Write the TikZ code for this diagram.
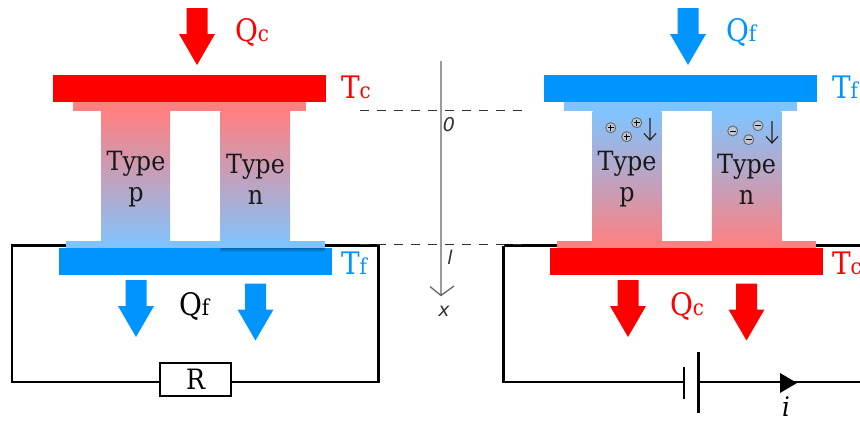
\documentclass[tikz,border=0pt]{standalone}
\usepackage{fontspec}
\setmainfont{DejaVu Serif Condensed}
\newfontfamily\axisfont{DejaVu Sans}
\usetikzlibrary{arrows.meta}
\definecolor{hot}{HTML}{FF0000}
\definecolor{cold}{HTML}{0094FF}
\definecolor{hotl}{HTML}{FF8080}
\definecolor{coldl}{HTML}{80C4FF}
\definecolor{axisgray}{HTML}{666666}
\newcommand{\bigarrow}[3]{\fill[#3] (#1-10.5,#2) -- (#1+10.5,#2) -- (#1+10.5,#2+26) -- (#1+18,#2+26) -- (#1,#2+57) -- (#1-18,#2+26) -- (#1-10.5,#2+26) -- cycle;}
\newcommand{\QT}[2]{{\fontsize{31}{31}\selectfont #1}{\fontsize{22}{22}\selectfont #2}}
\tikzset{
  plate/.style={rectangle,inner sep=0pt,outer sep=0pt,minimum width=273pt,minimum height=27pt},
  strip/.style={rectangle,inner sep=0pt,outer sep=0pt},
  lab/.style={inner sep=0pt,outer sep=0pt,anchor=base west},
  leglab/.style={inner sep=0pt,outer sep=0pt,align=center,font=\fontsize{26.5}{31}\selectfont,text=black!90},
  wire/.style={black,line width=2.2pt},
  dashline/.style={black!80,line width=1pt,dash pattern=on 9pt off 8pt},
  chg/.style={circle,draw=black!60,fill=black!18,fill opacity=0.7,line width=0.9pt,minimum size=10pt,inner sep=0pt},
  axlab/.style={inner sep=0pt,text=black!80,font=\axisfont\itshape\fontsize{19}{19}\selectfont}
}
\begin{document}
\begin{tikzpicture}[x=1pt,y=-1pt]
\useasboundingbox (0,0) rectangle (860,423);
% ---------- circuits
\coordinate (la) at (12,245.5); \coordinate (lb) at (378.5,245.5);
\coordinate (lc) at (12,382); \coordinate (ld) at (378.5,382);
\coordinate (ra) at (503.5,245.5); \coordinate (rb) at (860,245.5);
\coordinate (rc) at (503.5,382); \coordinate (rd) at (860,382);
\node[draw=black,line width=2.2pt,fill=white,minimum width=71pt,minimum height=33pt,inner sep=0pt,outer sep=0pt,font=\fontsize{28}{28}\selectfont] (R) at (195.5,379.5) {R};
\draw[wire] (R.west |- lc) -- (lc) -- (la) -- (lb) -- (ld) -- (R.east |- ld);
\coordinate (bs1) at (684,367); \coordinate (bs2) at (684,399);
\coordinate (bl1) at (698.5,352); \coordinate (bl2) at (698.5,413);
\draw[wire] (ra) -- (rb);
\draw[wire] (ra) -- (rc) -- (bs1 |- rc);
\draw[wire] (bl1 |- rd) -- (rd);
\draw[black,line width=2.6pt] (bs1) -- (bs2);
\draw[wire] (bl1) -- (bl2);
\fill[black] (780,373) -- (797,383) -- (780,393) -- cycle;
\draw[black,line width=2.2pt] (360,244.8) -- (371,244.8) (514,244.8) -- (523,244.8);
% ---------- left module
\bigarrow{197}{8}{hot}
\node[plate,fill=hot] (topL) at (189.5,88.5) {};
\node[strip,fill=hotl,minimum width=233pt,minimum height=9pt] (stL) at (189.5,106.5) {};
\node[strip,top color=hotl,bottom color=coldl,minimum width=69pt,minimum height=137pt] (pL) at (135.5,179.5) {};
\node[strip,top color=hotl,bottom color=coldl,minimum width=69.5pt,minimum height=137pt] (nL) at (255.25,179.5) {};
\node[strip,fill=coldl,minimum width=259pt,minimum height=7pt] (sbL) at (195.5,244.5) {};
\node[plate,fill=cold] (botL) at (195,261.5) {};
\shade[top color=cold!70!black,bottom color=cold] (220.5,248) rectangle (325,252);
\node[leglab] at (136,179) {Type\\p};
\node[leglab] at (255.5,179) {Type\\n};
\bigarrow{136}{280}{cold}
\bigarrow{255.5}{283.5}{cold}
\node[lab,text=hot] at (235,41) {\QT{Q}{c}};
\node[lab,text=hot] at (341,98) {\QT{T}{c}};
\node[lab,text=cold] at (341,274.5) {\QT{T}{f}};
\node[lab,text=black] at (179,315) {\QT{Q}{f}};
% ---------- right module
\bigarrow{688}{8}{cold}
\node[plate,fill=cold] (topR) at (680.5,88.5) {};
\node[strip,fill=coldl,minimum width=233pt,minimum height=9pt] (stR) at (680.5,106.5) {};
\node[strip,top color=coldl,bottom color=hotl,minimum width=69pt,minimum height=137pt] (pR) at (627,179.5) {};
\node[strip,top color=coldl,bottom color=hotl,minimum width=69.5pt,minimum height=137pt] (nR) at (746.5,179.5) {};
\node[strip,fill=hotl,minimum width=259pt,minimum height=7pt] (sbR) at (686.5,244.5) {};
\node[plate,fill=hot] (botR) at (686.5,261.5) {};
\node[leglab] at (627,179) {Type\\p};
\node[leglab] at (746.5,179) {Type\\n};
\bigarrow{628}{280}{hot}
\bigarrow{746.5}{283.5}{hot}
\node[lab,text=cold] at (726,41) {\QT{Q}{f}};
\node[lab,text=cold] at (832,98) {\QT{T}{f}};
\node[lab,text=hot] at (832,274.5) {\QT{T}{c}};
\node[lab,text=hot] at (670,315) {\QT{Q}{c}};
% charges
\foreach \n/\x/\y in {a/610.7/127.7,b/626.7/136.7,c/636.7/122.7}{
  \node[chg] (p\n) at (\x,\y) {};
  \draw[black,line width=0.8pt] (\x-3,\y) -- (\x+3,\y) (\x,\y-3) -- (\x,\y+3);
}
\foreach \n/\x/\y in {a/732.7/131,b/748.7/139.7,c/758/125.7}{
  \node[chg] (m\n) at (\x,\y) {};
  \draw[black,line width=1pt] (\x-3,\y) -- (\x+3,\y);
}
\coordinate (cp1) at (650,118); \coordinate (cp2) at (650,140);
\coordinate (cm1) at (772,121); \coordinate (cm2) at (772,143);
\draw[black!85,line width=1.2pt] (cp1) -- (cp2) (644,133.5) -- (cp2) -- (656,133.5);
\draw[black!85,line width=1.2pt] (cm1) -- (cm2) (766,136.5) -- (cm2) -- (778,136.5);
% i
\node[inner sep=0pt,anchor=base,font=\itshape\fontsize{27}{27}\selectfont] (cur) at (786,416.4) {i};
% ---------- axis
\coordinate (axT) at (441,61); \coordinate (axB) at (441,295.5);
\draw[axisgray,line width=1.3pt] (axT) -- (axB) (430,286.5) -- (axB) -- (454,286);
\coordinate (d0a) at (360,110.6); \coordinate (d0b) at (525,110.6);
\coordinate (dla) at (360,244.5); \coordinate (dlb) at (525,244.5);
\draw[dashline] (d0a) -- (d0b);
\draw[dashline] (dla) -- (dlb);
\node[axlab] at (449,125) {0};
\node[axlab] at (450,257) {l};
\node[axlab] at (444,311) {x};
\end{tikzpicture}
\end{document}
